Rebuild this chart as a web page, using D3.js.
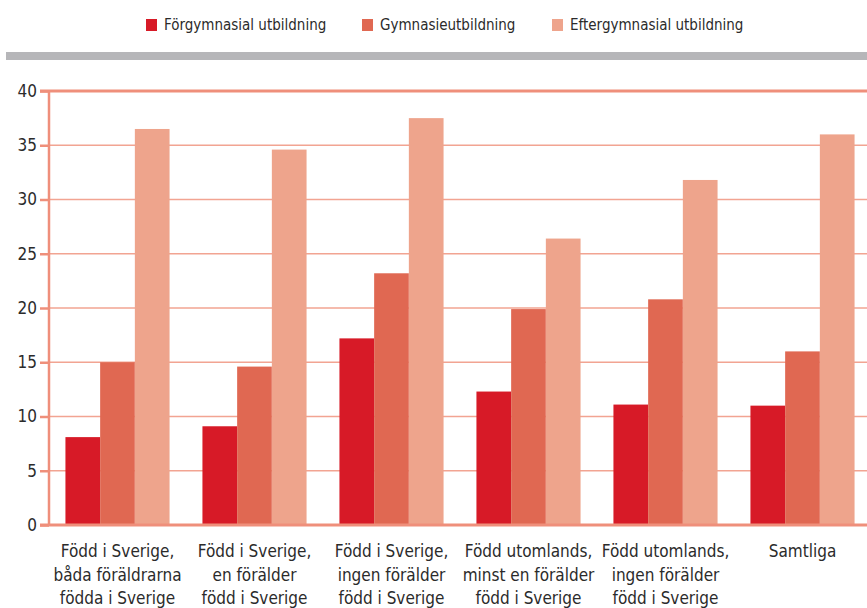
<!DOCTYPE html>
<html>
<head>
<meta charset="utf-8">
<script src="https://d3js.org/d3.v7.min.js"></script>
<style>
  body { margin: 0; background: #fff; }
  svg text { font-family: "Liberation Sans Narrow", "DejaVu Sans Condensed", "Roboto", sans-serif; fill: #2b2b2b; }
</style>
</head>
<body>
<svg id="chart" width="867" height="608"></svg>
<script>
const categories = [
  ["Född i Sverige,", "båda föräldrarna", "födda i Sverige"],
  ["Född i Sverige,", "en förälder", "född i Sverige"],
  ["Född i Sverige,", "ingen förälder", "född i Sverige"],
  ["Född utomlands,", "minst en förälder", "född i Sverige"],
  ["Född utomlands,", "ingen förälder", "född i Sverige"],
  ["Samtliga"]
];
const seriesNames = ["Förgymnasial utbildning", "Gymnasieutbildning", "Eftergymnasial utbildning"];
const forgymnasial = [8.1, 9.1, 17.2, 12.3, 11.1, 11.0];
const gymnasie = [15.0, 14.6, 23.2, 19.9, 20.8, 16.0];
const eftergymnasial = [36.5, 34.6, 37.5, 26.4, 31.8, 36.0];
const yTicks = [0, 5, 10, 15, 20, 25, 30, 35, 40];
const colors = ["#d71a27", "#e06852", "#eea48c"];

const series = [forgymnasial, gymnasie, eftergymnasial];
const svg = d3.select("#chart");
const mLeft = 49, mRight = 871, mTop = 91, mBottom = 525;

const x0 = d3.scaleBand().domain(d3.range(categories.length)).range([mLeft, mRight]).paddingInner(0.24).paddingOuter(0.12);
const x1 = d3.scaleBand().domain(d3.range(series.length)).range([0, x0.bandwidth()]);
const y = d3.scaleLinear().domain([0, 40]).range([mBottom, mTop]);

// legend
const legendX = [146, 362, 552];
const leg = svg.append("g");
seriesNames.forEach((n, i) => {
  leg.append("rect").attr("x", legendX[i]).attr("y", 19).attr("width", 11).attr("height", 12).attr("fill", colors[i]);
  leg.append("text").attr("x", legendX[i] + 18).attr("y", 30).attr("font-size", 15).text(n);
});

// grey band
svg.append("rect").attr("x", 6).attr("y", 52).attr("width", 861).attr("height", 8).attr("fill", "#b6b6b9");

// grid
svg.append("g").selectAll("line").data(yTicks.filter(d => d > 0 && d < 40)).join("line")
  .attr("x1", mLeft).attr("x2", 867)
  .attr("y1", d => y(d)).attr("y2", d => y(d))
  .attr("stroke", "#f2a492").attr("stroke-width", 1.5);

// bars
const groups = svg.append("g").selectAll("g").data(categories).join("g")
  .attr("transform", (d, i) => `translate(${x0(i)},0)`);
groups.selectAll("rect").data((d, i) => series.map((s, k) => ({k, v: s[i]}))).join("rect")
  .attr("x", d => x1(d.k))
  .attr("width", x1.bandwidth())
  .attr("y", d => y(d.v))
  .attr("height", d => y(0) - y(d.v))
  .attr("fill", d => colors[d.k]);

// y axis
const yAxis = svg.append("g").attr("transform", `translate(${mLeft},0)`)
  .call(d3.axisLeft(y).tickValues(yTicks).tickSize(9).tickPadding(3));
yAxis.select(".domain").remove();
yAxis.selectAll(".tick line").attr("stroke", "#ef8f7b").attr("stroke-width", 2.5);
yAxis.selectAll(".tick text").attr("font-size", 17).attr("fill", "#2b2b2b");

svg.append("line").attr("x1", mLeft).attr("x2", mLeft).attr("y1", mTop).attr("y2", mBottom)
  .attr("stroke", "#ef8f7b").attr("stroke-width", 2.5);
svg.append("line").attr("x1", mLeft - 9).attr("x2", 867).attr("y1", y(40)).attr("y2", y(40))
  .attr("stroke", "#ef8f7b").attr("stroke-width", 3);
svg.append("line").attr("x1", mLeft - 9).attr("x2", 867).attr("y1", y(0)).attr("y2", y(0))
  .attr("stroke", "#ef8f7b").attr("stroke-width", 3);

// x labels
const xl = svg.append("g").selectAll("text").data(categories).join("text")
  .attr("text-anchor", "middle")
  .attr("font-size", 17)
  .attr("x", (d, i) => x0(i) + x0.bandwidth() / 2);
xl.selectAll("tspan").data(d => d).join("tspan")
  .attr("x", function() { return this.parentNode.getAttribute("x"); })
  .attr("y", (d, j) => 557 + j * 23.5)
  .text(d => d);
</script>
</body>
</html>
